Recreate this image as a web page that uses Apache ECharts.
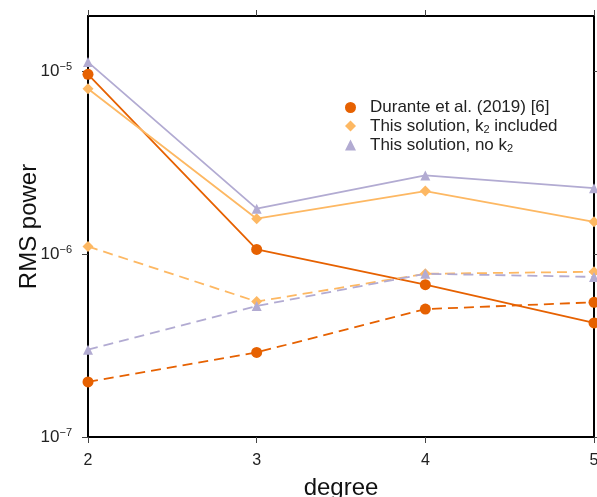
<!DOCTYPE html>
<html lang="en">
<head>
    <meta charset="UTF-8">
    <title>RMS power</title>
    <script src="https://cdn.jsdelivr.net/npm/echarts@6/dist/echarts.min.js"></script>
</head>
<body style="margin: 0; background: #ffffff;">
    <div id="main" style="width: 597px; height: 497px;"></div>
    <script type="text/javascript">
        var degrees = [2, 3, 4, 5];
        var yTicks = [1e-7, 1e-6, 1e-5];

        // solid lines = unnormalized, dashed = second set
        var duranteSolid = [9.6e-6, 1.06e-6, 6.8e-7, 4.2e-7];
        var duranteDashed = [2.0e-7, 2.9e-7, 5.0e-7, 5.45e-7];
        var k2Solid = [8.0e-6, 1.56e-6, 2.21e-6, 1.5e-6];
        var k2Dashed = [1.1e-6, 5.5e-7, 7.8e-7, 8.0e-7];
        var noK2Solid = [1.12e-5, 1.77e-6, 2.69e-6, 2.29e-6];
        var noK2Dashed = [3.0e-7, 5.2e-7, 7.8e-7, 7.5e-7];

        var colors = ['#e66101', '#fdb863', '#b2abd2'];
        var names = ['Durante et al. (2019) [6]', 'This solution, k2 included', 'This solution, no k2'];
        var font = 'Liberation Sans, Arial, sans-serif';

        function pairs(vals) {
            return degrees.map(function (d, i) { return [d, vals[i]]; });
        }

        function mkSeries(name, vals, color, symbol, size, dashed) {
            return {
                name: name, type: 'line', data: pairs(vals),
                symbol: symbol, symbolSize: size, showSymbol: true,
                itemStyle: { color: color },
                lineStyle: { color: color, width: 1.8, type: dashed ? [10, 6] : 'solid' },
                emphasis: { disabled: true },
                clip: false, z: 3
            };
        }

        var chart = echarts.init(document.getElementById('main'));
        var axisLine = { show: true, lineStyle: { color: '#000', width: 2 } };
        var tick = { show: true, inside: false, length: 6, lineStyle: { color: '#444', width: 1 } };

        var option = {
            animation: false,
            textStyle: { fontFamily: font },
            grid: { left: 88, right: 3, top: 16, bottom: 60, outerBoundsMode: 'none' },
            legend: {
                data: [
                    { name: names[0], icon: 'circle' },
                    { name: names[1], icon: 'diamond' },
                    { name: names[2], icon: 'triangle' }
                ],
                orient: 'vertical',
                left: 340, top: 94,
                itemWidth: 11, itemHeight: 11, itemGap: 1,
                formatter: function (n) {
                    if (n === names[1]) return '{f|This solution, k}{s|2}{t| included}';
                    if (n === names[2]) return '{f|This solution, no k}{s|2}';
                    return '{f|' + n + '}';
                },
                textStyle: {
                    color: '#222',
                    rich: {
                        f: { fontSize: 17, lineHeight: 18, fontFamily: font, color: '#222', padding: [0, 0, 0, 9] },
                        t: { fontSize: 17, lineHeight: 18, fontFamily: font, color: '#222' },
                        s: { fontSize: 11, lineHeight: 18, fontFamily: font, color: '#222', padding: [7, 0, 0, 0] }
                    }
                }
            },
            xAxis: [{
                type: 'value', min: 2, max: 5, interval: 1,
                name: 'degree', nameLocation: 'middle', nameGap: 39,
                nameTextStyle: { fontSize: 24, color: '#111', fontFamily: font },
                axisLine: axisLine, axisTick: tick, splitLine: { show: false },
                axisLabel: { fontSize: 16, color: '#222', margin: 16, fontFamily: font }
            }, {
                type: 'value', min: 2, max: 5, interval: 1, position: 'top',
                axisLine: axisLine, axisTick: tick, splitLine: { show: false },
                axisLabel: { show: false }
            }],
            yAxis: [{
                type: 'log', logBase: 10, min: 1e-7, max: 2e-5,
                name: 'RMS power', nameLocation: 'middle', nameGap: 47, nameMoveOverlap: false,
                nameTextStyle: { fontSize: 24, color: '#111', fontFamily: font },
                axisLine: axisLine, axisTick: Object.assign({ customValues: yTicks }, tick),
                splitLine: { show: false },
                minorTick: { show: false },
                axisLabel: {
                    margin: 16, color: '#222',
                    customValues: yTicks,
                    formatter: function (v) {
                        var e = Math.round(Math.log10(v));
                        return '{b|10}{p|\u2212' + Math.abs(e) + '}';
                    },
                    rich: {
                        b: { fontSize: 17, color: '#222', fontFamily: font },
                        p: { fontSize: 11, color: '#222', fontFamily: font, padding: [0, 0, 8, 0] }
                    }
                }
            }, {
                type: 'log', logBase: 10, min: 1e-7, max: 2e-5, position: 'right',
                axisLine: axisLine, axisTick: Object.assign({ customValues: yTicks }, tick),
                splitLine: { show: false },
                axisLabel: { show: false }
            }],
            series: [
                mkSeries(names[0], duranteSolid, colors[0], 'circle', 11, false),
                mkSeries(names[1], k2Solid, colors[1], 'diamond', 11, false),
                mkSeries(names[2], noK2Solid, colors[2], 'triangle', 10, false),
                mkSeries('Durante dashed', duranteDashed, colors[0], 'circle', 11, true),
                mkSeries('k2 dashed', k2Dashed, colors[1], 'diamond', 11, true),
                mkSeries('no k2 dashed', noK2Dashed, colors[2], 'triangle', 10, true)
            ]
        };
        chart.setOption(option);
    </script>
</body>
</html>
